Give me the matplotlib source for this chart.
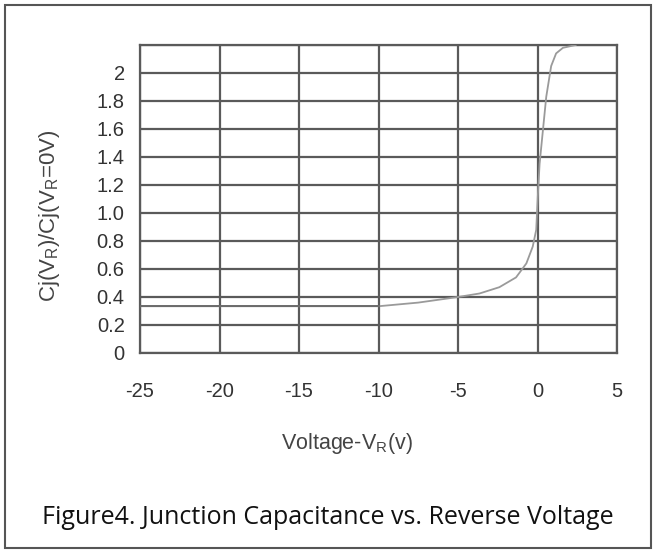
import matplotlib.pyplot as plt
from matplotlib.patches import Rectangle

# curve: reverse voltage (V) vs normalised junction capacitance
voltage = [-25, -20, -15, -10, -7.5, -5, -3.65, -2.4, -1.35, -0.7, -0.3, -0.08,
           0.02, 0.13, 0.34, 0.55, 0.86, 1.17, 1.6, 2.4]
cap_ratio = [0.334, 0.334, 0.334, 0.334, 0.36, 0.40, 0.425, 0.47, 0.54, 0.64, 0.76, 0.88,
             1.12, 1.35, 1.59, 1.83, 2.05, 2.14, 2.18, 2.2]

x_ticks = [-25, -20, -15, -10, -5, 0, 5]
y_ticks = [0, 0.2, 0.4, 0.6, 0.8, 1.0, 1.2, 1.4, 1.6, 1.8, 2.0, 2.2]
y_labels = ['0', '0.2', '0.4', '0.6', '0.8', '1.0', '1.2', '1.4', '1.6', '1.8', '2', '']

plt.rcParams['font.family'] = ['Liberation Sans', 'DejaVu Sans']
plt.rcParams['mathtext.default'] = 'regular'
plt.rcParams['axes.unicode_minus'] = False

fig = plt.figure(figsize=(6.56, 5.53), dpi=100)
ax = fig.add_axes([140 / 656, 1 - 353 / 553, 477 / 656, 308 / 553])

grid_color = '#5a5a5a'
ax.plot(voltage, cap_ratio, color='#9a9a9a', lw=1.3, zorder=3)
# flat part of the curve is drawn darker in the original
ax.plot(voltage[:4], cap_ratio[:4], color='#666666', lw=1.3, zorder=3)

ax.set_xlim(-25, 5)
ax.set_ylim(0, 2.2)
ax.set_xticks(x_ticks)
ax.set_yticks(y_ticks)
ax.set_yticklabels(y_labels)
ax.grid(True, color=grid_color, lw=1.6)
ax.tick_params(length=0, labelsize=14.5, colors='#333333')
ax.tick_params(axis='x', pad=21)
ax.tick_params(axis='y', pad=11)
for s in ax.spines.values():
    s.set_color(grid_color)
    s.set_linewidth(1.6)

ax.set_xlabel('Voltage-V$_R$(v)', fontsize=15.5, color='#444444')
ax.set_ylabel('Cj(V$_R$)/Cj(V$_R$=0V)', fontsize=16, color='#444444')
ax.xaxis.set_label_coords((347 - 140) / 477, (353 - 443) / 308)
ax.yaxis.set_label_coords((50 - 140) / 477, (353 - 216) / 308)
ax.xaxis.label.set_va('center')
ax.yaxis.label.set_va('center')

# caption and outer frame
fig.text(0.5, 1 - 517 / 553, 'Figure4. Junction Capacitance vs. Reverse Voltage',
         ha='center', va='center', fontsize=18, family=['Open Sans', 'DejaVu Sans'],
         color='#111111')
fig.patches.append(Rectangle((5 / 656, 5 / 553), 646 / 656, 543 / 553, transform=fig.transFigure,
                             fill=False, edgecolor='#555555', lw=1.5))

fig.savefig('out.png', dpi=100)
